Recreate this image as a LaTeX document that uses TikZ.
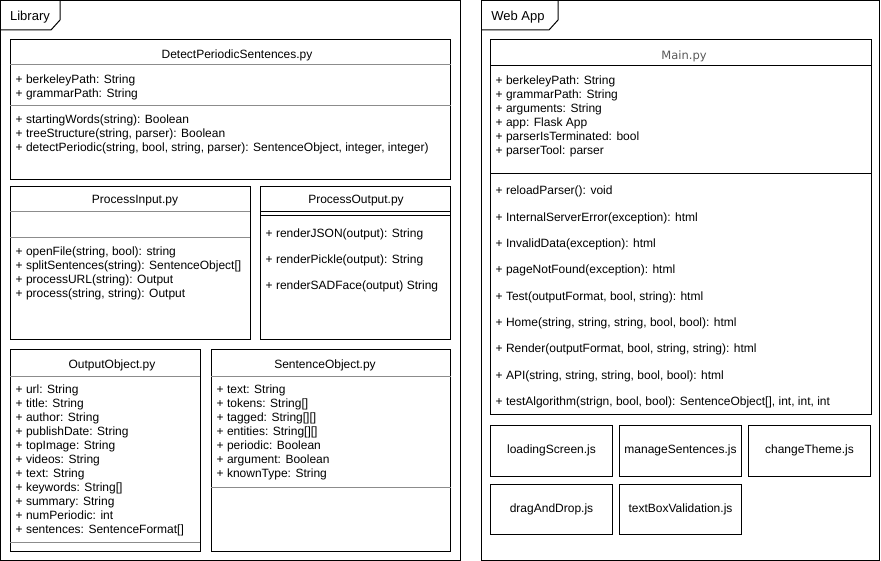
\documentclass[tikz,border=0pt]{standalone}
\usepackage{fontspec}
\setmainfont{Liberation Sans}
\newfontfamily\mainpyfont{DejaVu Sans}
\newcommand\umlrows[5]{%
  \foreach \t [count=\i] in {#5} {%
    \node[lbl] (#1\i) at (#2, {#3+(\i-1)*#4}) {\t};
  }%
}
\tikzset{
  frame/.style={draw=black, line width=1pt},
  box/.style={draw=black, line width=1pt},
  sepg/.style={draw=black!45, line width=1pt},
  sepk/.style={draw=black, line width=1pt},
  lbl/.style={anchor=base west, inner sep=0pt, font=\fontsize{12}{14}\selectfont},
  ttl/.style={anchor=base, inner sep=0pt, font=\fontsize{12}{14}\selectfont},
  tablbl/.style={anchor=base, inner sep=0pt, font=\fontsize{13}{15}\selectfont},
  jsbox/.style={draw=black, line width=1pt, minimum width=122pt, minimum height=51pt, inner sep=0pt, font=\fontsize{12}{14}\selectfont},
}
\begin{document}
\begin{tikzpicture}[x=1pt,y=-1pt]
\useasboundingbox (0,0) rectangle (881,561);

% ---------- Library frame ----------
\draw[frame] (0.5,0.5) rectangle (460,560);
\draw[frame] (0.5,30) -- (51,30) -- (60,20) -- (60,0.5);
\node[tablbl] (libtab) at (30,20.5) {Library};

% DetectPeriodicSentences.py
\draw[box] (10,40) rectangle (450.5,180);
\node[ttl] (dpt) at (237,58.3) {DetectPeriodicSentences.py};
\draw[sepg] (10,65) -- (450.5,65);
\draw[sepg] (10,106) -- (450.5,106);
\umlrows{dpa}{15.5}{83.3}{14}{{+ berkeleyPath: String},{+ grammarPath: String}}
\umlrows{dpm}{15.5}{123.7}{14}{{+ startingWords(string): Boolean},{+ treeStructure(string, parser): Boolean},{+ detectPeriodic(string, bool, string, parser): SentenceObject, integer, integer)}}

% ProcessInput.py
\draw[box] (10,187) rectangle (250,340);
\node[ttl] (pit) at (135,204) {ProcessInput.py};
\draw[sepg] (10,212) -- (250,212);
\draw[sepg] (10,238) -- (250,238);
\umlrows{pim}{15.5}{256}{14}{{+ openFile(string, bool): string},{+ splitSentences(string): SentenceObject[]},{+ processURL(string): Output},{+ process(string, string): Output}}

% ProcessOutput.py
\draw[box] (260,187) rectangle (450.5,340);
\node[ttl] (pot) at (356,204) {ProcessOutput.py};
\draw[sepk] (260,212) -- (450.5,212);
\draw[sepk] (260,216) -- (450.5,216);
\umlrows{pom}{265.5}{238}{26}{{+ renderJSON(output): String},{+ renderPickle(output): String},{+ renderSADFace(output) String}}

% OutputObject.py
\draw[box] (10,350) rectangle (200,551);
\node[ttl] (oot) at (112,368) {OutputObject.py};
\draw[sepg] (10,376) -- (200,376);
\draw[sepg] (10,542) -- (200,542);
\umlrows{ooa}{15.5}{393.3}{14}{{+ url: String},{+ title: String},{+ author: String},{+ publishDate: String},{+ topImage: String},{+ videos: String},{+ text: String},{+ keywords: String[]},{+ summary: String},{+ numPeriodic: int},{+ sentences: SentenceFormat[]}}

% SentenceObject.py
\draw[box] (211,350) rectangle (450.5,551);
\node[ttl] (sot) at (325,368) {SentenceObject.py};
\draw[sepg] (211,376) -- (450.5,376);
\draw[sepg] (211,487) -- (450.5,487);
\umlrows{soa}{216.5}{393.3}{14}{{+ text: String},{+ tokens: String[]},{+ tagged: String[][]},{+ entities: String[][]},{+ periodic: Boolean},{+ argument: Boolean},{+ knownType: String}}

% ---------- Web App frame ----------
\draw[frame] (481,0.5) rectangle (879,560);
\draw[frame] (481,30) -- (549,30) -- (558,20) -- (558,0.5);
\node[tablbl] (webtab) at (518,20.5) {Web App};

% Main.py
\draw[box] (490,40) rectangle (871,414.5);
\node[anchor=base, inner sep=0pt, font=\mainpyfont\fontsize{11.5}{14}\selectfont, text=black!65] (mpt) at (684,60) {Main.py};
\draw[sepk] (490,65.5) -- (871,65.5);
\draw[sepk] (490,174) -- (871,174);
\umlrows{mpa}{495.5}{84.3}{14}{{+ berkeleyPath: String},{+ grammarPath: String},{+ arguments: String},{+ app: Flask App},{+ parserIsTerminated: bool},{+ parserTool: parser}}
\umlrows{mpm}{495.5}{195}{26.3}{{+ reloadParser(): void},{+ InternalServerError(exception): html},{+ InvalidData(exception): html},{+ pageNotFound(exception): html},{+ Test(outputFormat, bool, string): html},{+ Home(string, string, string, bool, bool): html},{+ Render(outputFormat, bool, string, string): html},{+ API(string, string, string, bool, bool): html},{+ testAlgorithm(strign, bool, bool): SentenceObject[], int, int, int}}

% JS files
\node[jsbox] (ls) at (551.5,450.5) {\raisebox{-1pt}{loadingScreen.js}};
\node[jsbox] (ms) at (680.5,450.5) {\raisebox{-1pt}{manageSentences.js}};
\node[jsbox] (ct) at (809.5,450.5) {\raisebox{-1pt}{changeTheme.js}};
\node[jsbox, minimum height=50pt] (dd) at (551.5,509) {\raisebox{-1pt}{dragAndDrop.js}};
\node[jsbox, minimum height=50pt] (tv) at (680.5,509) {\raisebox{-1pt}{textBoxValidation.js}};
\end{tikzpicture}
\end{document}
